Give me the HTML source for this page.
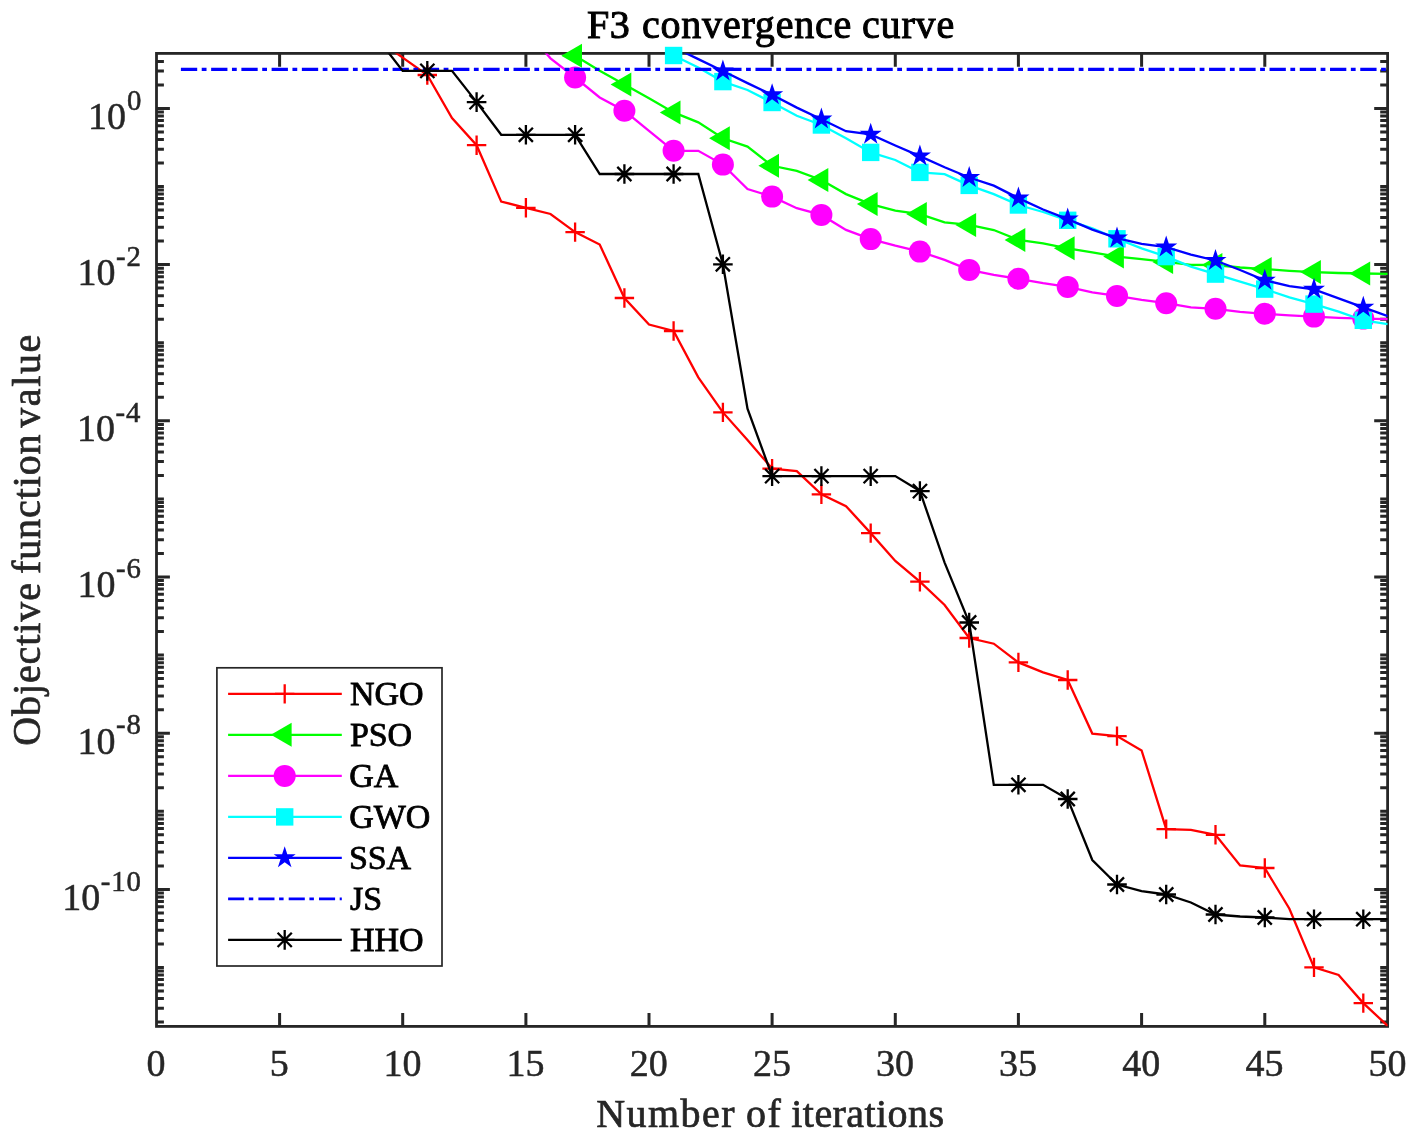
<!DOCTYPE html>
<html lang="en"><head><meta charset="utf-8"><title>F3 convergence curve</title>
<style>
html,body{margin:0;padding:0;background:#fff}
body{width:1417px;height:1142px;overflow:hidden}
svg text{font-family:"Liberation Serif",serif}
</style></head><body>
<svg width="1417" height="1142" viewBox="0 0 1417 1142" style="display:block">
<defs><clipPath id="c"><rect x="156.5" y="53.4" width="1231.1" height="973.0"/></clipPath></defs>
<rect width="1417" height="1142" fill="#fff"/>
<path d="M279.6 1026.4V1013.0M279.6 53.4V66.8M402.7 1026.4V1013.0M402.7 53.4V66.8M525.9 1026.4V1013.0M525.9 53.4V66.8M649.0 1026.4V1013.0M649.0 53.4V66.8M772.1 1026.4V1013.0M772.1 53.4V66.8M895.3 1026.4V1013.0M895.3 53.4V66.8M1018.4 1026.4V1013.0M1018.4 53.4V66.8M1141.6 1026.4V1013.0M1141.6 53.4V66.8M1264.8 1026.4V1013.0M1264.8 53.4V66.8M156.5 108.4H169.9M1387.6 108.4H1374.2M156.5 84.9H163.9M1387.6 84.9H1380.2M156.5 71.1H163.9M1387.6 71.1H1380.2M156.5 61.4H163.9M1387.6 61.4H1380.2M156.5 186.5H163.9M1387.6 186.5H1380.2M156.5 163.0H163.9M1387.6 163.0H1380.2M156.5 149.2H163.9M1387.6 149.2H1380.2M156.5 139.5H163.9M1387.6 139.5H1380.2M156.5 131.9H163.9M1387.6 131.9H1380.2M156.5 125.7H163.9M1387.6 125.7H1380.2M156.5 120.5H163.9M1387.6 120.5H1380.2M156.5 116.0H163.9M1387.6 116.0H1380.2M156.5 112.0H163.9M1387.6 112.0H1380.2M156.5 264.6H169.9M1387.6 264.6H1374.2M156.5 241.1H163.9M1387.6 241.1H1380.2M156.5 227.3H163.9M1387.6 227.3H1380.2M156.5 217.6H163.9M1387.6 217.6H1380.2M156.5 210.0H163.9M1387.6 210.0H1380.2M156.5 203.8H163.9M1387.6 203.8H1380.2M156.5 198.6H163.9M1387.6 198.6H1380.2M156.5 194.1H163.9M1387.6 194.1H1380.2M156.5 190.1H163.9M1387.6 190.1H1380.2M156.5 342.7H163.9M1387.6 342.7H1380.2M156.5 319.2H163.9M1387.6 319.2H1380.2M156.5 305.4H163.9M1387.6 305.4H1380.2M156.5 295.7H163.9M1387.6 295.7H1380.2M156.5 288.1H163.9M1387.6 288.1H1380.2M156.5 281.9H163.9M1387.6 281.9H1380.2M156.5 276.7H163.9M1387.6 276.7H1380.2M156.5 272.2H163.9M1387.6 272.2H1380.2M156.5 268.2H163.9M1387.6 268.2H1380.2M156.5 420.8H169.9M1387.6 420.8H1374.2M156.5 397.3H163.9M1387.6 397.3H1380.2M156.5 383.5H163.9M1387.6 383.5H1380.2M156.5 373.8H163.9M1387.6 373.8H1380.2M156.5 366.2H163.9M1387.6 366.2H1380.2M156.5 360.0H163.9M1387.6 360.0H1380.2M156.5 354.8H163.9M1387.6 354.8H1380.2M156.5 350.3H163.9M1387.6 350.3H1380.2M156.5 346.3H163.9M1387.6 346.3H1380.2M156.5 498.9H163.9M1387.6 498.9H1380.2M156.5 475.4H163.9M1387.6 475.4H1380.2M156.5 461.6H163.9M1387.6 461.6H1380.2M156.5 451.9H163.9M1387.6 451.9H1380.2M156.5 444.3H163.9M1387.6 444.3H1380.2M156.5 438.1H163.9M1387.6 438.1H1380.2M156.5 432.9H163.9M1387.6 432.9H1380.2M156.5 428.4H163.9M1387.6 428.4H1380.2M156.5 424.4H163.9M1387.6 424.4H1380.2M156.5 577.0H169.9M1387.6 577.0H1374.2M156.5 553.5H163.9M1387.6 553.5H1380.2M156.5 539.7H163.9M1387.6 539.7H1380.2M156.5 530.0H163.9M1387.6 530.0H1380.2M156.5 522.4H163.9M1387.6 522.4H1380.2M156.5 516.2H163.9M1387.6 516.2H1380.2M156.5 511.0H163.9M1387.6 511.0H1380.2M156.5 506.5H163.9M1387.6 506.5H1380.2M156.5 502.5H163.9M1387.6 502.5H1380.2M156.5 655.1H163.9M1387.6 655.1H1380.2M156.5 631.6H163.9M1387.6 631.6H1380.2M156.5 617.8H163.9M1387.6 617.8H1380.2M156.5 608.1H163.9M1387.6 608.1H1380.2M156.5 600.5H163.9M1387.6 600.5H1380.2M156.5 594.3H163.9M1387.6 594.3H1380.2M156.5 589.1H163.9M1387.6 589.1H1380.2M156.5 584.6H163.9M1387.6 584.6H1380.2M156.5 580.6H163.9M1387.6 580.6H1380.2M156.5 733.2H169.9M1387.6 733.2H1374.2M156.5 709.7H163.9M1387.6 709.7H1380.2M156.5 695.9H163.9M1387.6 695.9H1380.2M156.5 686.2H163.9M1387.6 686.2H1380.2M156.5 678.6H163.9M1387.6 678.6H1380.2M156.5 672.4H163.9M1387.6 672.4H1380.2M156.5 667.2H163.9M1387.6 667.2H1380.2M156.5 662.7H163.9M1387.6 662.7H1380.2M156.5 658.7H163.9M1387.6 658.7H1380.2M156.5 811.3H163.9M1387.6 811.3H1380.2M156.5 787.8H163.9M1387.6 787.8H1380.2M156.5 774.0H163.9M1387.6 774.0H1380.2M156.5 764.3H163.9M1387.6 764.3H1380.2M156.5 756.7H163.9M1387.6 756.7H1380.2M156.5 750.5H163.9M1387.6 750.5H1380.2M156.5 745.3H163.9M1387.6 745.3H1380.2M156.5 740.8H163.9M1387.6 740.8H1380.2M156.5 736.8H163.9M1387.6 736.8H1380.2M156.5 889.4H169.9M1387.6 889.4H1374.2M156.5 865.9H163.9M1387.6 865.9H1380.2M156.5 852.1H163.9M1387.6 852.1H1380.2M156.5 842.4H163.9M1387.6 842.4H1380.2M156.5 834.8H163.9M1387.6 834.8H1380.2M156.5 828.6H163.9M1387.6 828.6H1380.2M156.5 823.4H163.9M1387.6 823.4H1380.2M156.5 818.9H163.9M1387.6 818.9H1380.2M156.5 814.9H163.9M1387.6 814.9H1380.2M156.5 967.5H163.9M1387.6 967.5H1380.2M156.5 944.0H163.9M1387.6 944.0H1380.2M156.5 930.2H163.9M1387.6 930.2H1380.2M156.5 920.5H163.9M1387.6 920.5H1380.2M156.5 912.9H163.9M1387.6 912.9H1380.2M156.5 906.7H163.9M1387.6 906.7H1380.2M156.5 901.5H163.9M1387.6 901.5H1380.2M156.5 897.0H163.9M1387.6 897.0H1380.2M156.5 893.0H163.9M1387.6 893.0H1380.2M156.5 1022.1H163.9M1387.6 1022.1H1380.2M156.5 1008.3H163.9M1387.6 1008.3H1380.2M156.5 998.6H163.9M1387.6 998.6H1380.2M156.5 991.0H163.9M1387.6 991.0H1380.2M156.5 984.8H163.9M1387.6 984.8H1380.2M156.5 979.6H163.9M1387.6 979.6H1380.2M156.5 975.1H163.9M1387.6 975.1H1380.2M156.5 971.1H163.9M1387.6 971.1H1380.2" stroke="#262626" stroke-width="3.0" fill="none"/>
<rect x="156.5" y="53.4" width="1231.1" height="973.0" fill="none" stroke="#262626" stroke-width="2.8"/>
<polyline clip-path="url(#c)" fill="none" stroke="#ff0000" stroke-width="2.3" stroke-linejoin="miter" points="378.1,40.2 402.7,57.6 427.3,75.0 452.0,118.0 476.6,145.2 501.2,201.6 525.9,207.8 550.5,214.0 575.1,232.1 599.7,244.5 624.4,298.0 649.0,324.5 673.6,331.0 698.3,377.4 722.9,412.4 747.5,439.9 772.1,468.6 796.8,471.1 821.4,494.3 846.0,506.1 870.7,533.1 895.3,561.0 919.9,581.7 944.6,605.0 969.2,638.0 993.8,643.7 1018.4,662.4 1043.1,672.4 1067.7,680.0 1092.3,733.6 1117.0,736.1 1141.6,750.4 1166.2,829.1 1190.9,829.8 1215.5,834.8 1240.1,865.5 1264.8,868.0 1289.4,908.7 1314.0,967.4 1338.6,974.9 1363.3,1003.1 1387.9,1026.1"/>
<path d="M417.6 75.0H437.0M427.3 65.3V84.7" stroke="#ff0000" stroke-width="2.3" fill="none"/>
<path d="M466.9 145.2H486.3M476.6 135.5V154.9" stroke="#ff0000" stroke-width="2.3" fill="none"/>
<path d="M516.1 207.8H535.6M525.9 198.1V217.5" stroke="#ff0000" stroke-width="2.3" fill="none"/>
<path d="M565.4 232.1H584.8M575.1 222.4V241.8" stroke="#ff0000" stroke-width="2.3" fill="none"/>
<path d="M614.7 298.0H634.1M624.4 288.3V307.7" stroke="#ff0000" stroke-width="2.3" fill="none"/>
<path d="M663.9 331.0H683.3M673.6 321.3V340.7" stroke="#ff0000" stroke-width="2.3" fill="none"/>
<path d="M713.2 412.4H732.6M722.9 402.7V422.1" stroke="#ff0000" stroke-width="2.3" fill="none"/>
<path d="M762.4 468.6H781.9M772.1 458.9V478.3" stroke="#ff0000" stroke-width="2.3" fill="none"/>
<path d="M811.7 494.3H831.1M821.4 484.6V504.0" stroke="#ff0000" stroke-width="2.3" fill="none"/>
<path d="M861.0 533.1H880.4M870.7 523.4V542.8" stroke="#ff0000" stroke-width="2.3" fill="none"/>
<path d="M910.2 581.7H929.6M919.9 572.0V591.4" stroke="#ff0000" stroke-width="2.3" fill="none"/>
<path d="M959.5 638.0H978.9M969.2 628.3V647.7" stroke="#ff0000" stroke-width="2.3" fill="none"/>
<path d="M1008.7 662.4H1028.1M1018.4 652.7V672.1" stroke="#ff0000" stroke-width="2.3" fill="none"/>
<path d="M1058.0 680.0H1077.4M1067.7 670.3V689.7" stroke="#ff0000" stroke-width="2.3" fill="none"/>
<path d="M1107.3 736.1H1126.7M1117.0 726.4V745.8" stroke="#ff0000" stroke-width="2.3" fill="none"/>
<path d="M1156.5 829.1H1175.9M1166.2 819.4V838.8" stroke="#ff0000" stroke-width="2.3" fill="none"/>
<path d="M1205.8 834.8H1225.2M1215.5 825.1V844.5" stroke="#ff0000" stroke-width="2.3" fill="none"/>
<path d="M1255.0 868.0H1274.5M1264.8 858.3V877.7" stroke="#ff0000" stroke-width="2.3" fill="none"/>
<path d="M1304.3 967.4H1323.7M1314.0 957.7V977.1" stroke="#ff0000" stroke-width="2.3" fill="none"/>
<path d="M1353.6 1003.1H1373.0M1363.3 993.4V1012.8" stroke="#ff0000" stroke-width="2.3" fill="none"/>
<polyline clip-path="url(#c)" fill="none" stroke="#00ff00" stroke-width="2.3" stroke-linejoin="miter" points="550.5,40.8 575.1,55.8 599.7,70.8 624.4,84.6 649.0,98.3 673.6,112.4 698.3,122.4 722.9,138.3 747.5,146.6 772.1,165.8 796.8,170.8 821.4,180.0 846.0,194.1 870.7,204.1 895.3,210.7 919.9,214.1 944.6,222.4 969.2,224.9 993.8,230.0 1018.4,240.0 1043.1,243.3 1067.7,248.3 1092.3,252.4 1117.0,256.6 1141.6,259.1 1166.2,261.9 1190.9,264.9 1215.5,265.0 1240.1,267.5 1264.8,269.1 1289.4,270.8 1314.0,272.1 1338.6,273.0 1363.3,273.5 1387.9,273.8"/>
<path d="M561.3 55.8L582.0 43.8L582.0 67.8Z" fill="#00ff00"/>
<path d="M610.6 84.6L631.3 72.6L631.3 96.6Z" fill="#00ff00"/>
<path d="M659.8 112.4L680.5 100.4L680.5 124.4Z" fill="#00ff00"/>
<path d="M709.1 138.3L729.8 126.3L729.8 150.3Z" fill="#00ff00"/>
<path d="M758.4 165.8L779.0 153.8L779.0 177.8Z" fill="#00ff00"/>
<path d="M807.6 180.0L828.3 168.0L828.3 192.0Z" fill="#00ff00"/>
<path d="M856.9 204.1L877.6 192.1L877.6 216.1Z" fill="#00ff00"/>
<path d="M906.1 214.1L926.8 202.1L926.8 226.1Z" fill="#00ff00"/>
<path d="M955.4 224.9L976.1 212.9L976.1 236.9Z" fill="#00ff00"/>
<path d="M1004.6 240.0L1025.3 228.0L1025.3 252.0Z" fill="#00ff00"/>
<path d="M1053.9 248.3L1074.6 236.3L1074.6 260.3Z" fill="#00ff00"/>
<path d="M1103.2 256.6L1123.9 244.6L1123.9 268.6Z" fill="#00ff00"/>
<path d="M1152.4 261.9L1173.1 249.9L1173.1 273.9Z" fill="#00ff00"/>
<path d="M1201.7 265.0L1222.4 253.0L1222.4 277.0Z" fill="#00ff00"/>
<path d="M1251.0 269.1L1271.7 257.1L1271.7 281.1Z" fill="#00ff00"/>
<path d="M1300.2 272.1L1320.9 260.1L1320.9 284.1Z" fill="#00ff00"/>
<path d="M1349.5 273.5L1370.2 261.5L1370.2 285.5Z" fill="#00ff00"/>
<polyline clip-path="url(#c)" fill="none" stroke="#ff00ff" stroke-width="2.3" stroke-linejoin="miter" points="525.9,30.0 550.5,58.3 575.1,77.5 599.7,97.5 624.4,110.8 649.0,130.8 673.6,150.8 698.3,150.8 722.9,164.6 747.5,189.1 772.1,196.6 796.8,208.2 821.4,214.9 846.0,229.9 870.7,239.1 895.3,245.7 919.9,251.6 944.6,259.9 969.2,269.9 993.8,274.9 1018.4,278.8 1043.1,283.2 1067.7,286.9 1092.3,292.4 1117.0,295.9 1141.6,299.9 1166.2,303.2 1190.9,307.4 1215.5,308.8 1240.1,311.9 1264.8,313.8 1289.4,315.4 1314.0,316.6 1338.6,317.8 1363.3,318.6 1387.9,319.1"/>
<circle cx="575.1" cy="77.5" r="11" fill="#ff00ff"/>
<circle cx="624.4" cy="110.8" r="11" fill="#ff00ff"/>
<circle cx="673.6" cy="150.8" r="11" fill="#ff00ff"/>
<circle cx="722.9" cy="164.6" r="11" fill="#ff00ff"/>
<circle cx="772.1" cy="196.6" r="11" fill="#ff00ff"/>
<circle cx="821.4" cy="214.9" r="11" fill="#ff00ff"/>
<circle cx="870.7" cy="239.1" r="11" fill="#ff00ff"/>
<circle cx="919.9" cy="251.6" r="11" fill="#ff00ff"/>
<circle cx="969.2" cy="269.9" r="11" fill="#ff00ff"/>
<circle cx="1018.4" cy="278.8" r="11" fill="#ff00ff"/>
<circle cx="1067.7" cy="286.9" r="11" fill="#ff00ff"/>
<circle cx="1117.0" cy="295.9" r="11" fill="#ff00ff"/>
<circle cx="1166.2" cy="303.2" r="11" fill="#ff00ff"/>
<circle cx="1215.5" cy="308.8" r="11" fill="#ff00ff"/>
<circle cx="1264.8" cy="313.8" r="11" fill="#ff00ff"/>
<circle cx="1314.0" cy="316.6" r="11" fill="#ff00ff"/>
<circle cx="1363.3" cy="318.6" r="11" fill="#ff00ff"/>
<polyline clip-path="url(#c)" fill="none" stroke="#00ffff" stroke-width="2.3" stroke-linejoin="miter" points="649.0,43.0 673.6,55.5 698.3,67.5 722.9,81.6 747.5,90.0 772.1,102.5 796.8,115.8 821.4,125.0 846.0,138.3 870.7,152.4 895.3,160.0 919.9,172.4 944.6,174.1 969.2,185.4 993.8,194.1 1018.4,205.0 1043.1,212.0 1067.7,220.3 1092.3,228.3 1117.0,238.8 1141.6,248.3 1166.2,256.6 1190.9,266.6 1215.5,274.1 1240.1,281.6 1264.8,289.1 1289.4,297.4 1314.0,304.1 1338.6,311.6 1363.3,320.3 1387.9,324.1"/>
<rect x="664.9" y="46.8" width="17.4" height="17.4" fill="#00ffff"/>
<rect x="714.2" y="72.9" width="17.4" height="17.4" fill="#00ffff"/>
<rect x="763.4" y="93.8" width="17.4" height="17.4" fill="#00ffff"/>
<rect x="812.7" y="116.3" width="17.4" height="17.4" fill="#00ffff"/>
<rect x="862.0" y="143.7" width="17.4" height="17.4" fill="#00ffff"/>
<rect x="911.2" y="163.7" width="17.4" height="17.4" fill="#00ffff"/>
<rect x="960.5" y="176.7" width="17.4" height="17.4" fill="#00ffff"/>
<rect x="1009.7" y="196.3" width="17.4" height="17.4" fill="#00ffff"/>
<rect x="1059.0" y="211.6" width="17.4" height="17.4" fill="#00ffff"/>
<rect x="1108.3" y="230.1" width="17.4" height="17.4" fill="#00ffff"/>
<rect x="1157.5" y="247.9" width="17.4" height="17.4" fill="#00ffff"/>
<rect x="1206.8" y="265.4" width="17.4" height="17.4" fill="#00ffff"/>
<rect x="1256.0" y="280.4" width="17.4" height="17.4" fill="#00ffff"/>
<rect x="1305.3" y="295.4" width="17.4" height="17.4" fill="#00ffff"/>
<rect x="1354.6" y="311.6" width="17.4" height="17.4" fill="#00ffff"/>
<polyline clip-path="url(#c)" fill="none" stroke="#0000ff" stroke-width="2.3" stroke-linejoin="miter" points="673.6,47.2 698.3,59.1 722.9,71.0 747.5,83.1 772.1,94.8 796.8,107.6 821.4,119.2 846.0,131.2 870.7,134.4 895.3,145.5 919.9,156.1 944.6,167.2 969.2,177.5 993.8,185.6 1018.4,198.1 1043.1,209.5 1067.7,219.1 1092.3,229.6 1117.0,238.2 1141.6,243.8 1166.2,247.2 1190.9,254.6 1215.5,260.5 1240.1,270.0 1264.8,280.3 1289.4,286.2 1314.0,289.4 1338.6,298.3 1363.3,307.3 1387.9,316.2"/>
<polygon points="722.9,59.4 725.5,67.4 733.9,67.4 727.1,72.4 729.7,80.4 722.9,75.4 716.1,80.4 718.7,72.4 711.9,67.4 720.3,67.4" fill="#0000ff"/>
<polygon points="772.1,83.2 774.8,91.2 783.2,91.2 776.4,96.2 779.0,104.2 772.1,99.2 765.3,104.2 767.9,96.2 761.1,91.2 769.5,91.2" fill="#0000ff"/>
<polygon points="821.4,107.6 824.0,115.6 832.4,115.6 825.6,120.6 828.2,128.6 821.4,123.6 814.6,128.6 817.2,120.6 810.4,115.6 818.8,115.6" fill="#0000ff"/>
<polygon points="870.7,122.8 873.3,130.8 881.7,130.8 874.9,135.8 877.5,143.8 870.7,138.8 863.9,143.8 866.5,135.8 859.6,130.8 868.1,130.8" fill="#0000ff"/>
<polygon points="919.9,144.5 922.5,152.5 931.0,152.5 924.1,157.5 926.7,165.5 919.9,160.5 913.1,165.5 915.7,157.5 908.9,152.5 917.3,152.5" fill="#0000ff"/>
<polygon points="969.2,165.9 971.8,173.9 980.2,173.9 973.4,178.9 976.0,186.9 969.2,181.9 962.4,186.9 965.0,178.9 958.2,173.9 966.6,173.9" fill="#0000ff"/>
<polygon points="1018.4,186.5 1021.1,194.5 1029.5,194.5 1022.7,199.5 1025.3,207.5 1018.4,202.5 1011.6,207.5 1014.2,199.5 1007.4,194.5 1015.8,194.5" fill="#0000ff"/>
<polygon points="1067.7,207.5 1070.3,215.5 1078.7,215.5 1071.9,220.5 1074.5,228.5 1067.7,223.5 1060.9,228.5 1063.5,220.5 1056.7,215.5 1065.1,215.5" fill="#0000ff"/>
<polygon points="1117.0,226.6 1119.6,234.6 1128.0,234.6 1121.2,239.6 1123.8,247.6 1117.0,242.6 1110.2,247.6 1112.8,239.6 1105.9,234.6 1114.4,234.6" fill="#0000ff"/>
<polygon points="1166.2,235.6 1168.8,243.6 1177.3,243.6 1170.4,248.6 1173.0,256.6 1166.2,251.6 1159.4,256.6 1162.0,248.6 1155.2,243.6 1163.6,243.6" fill="#0000ff"/>
<polygon points="1215.5,248.9 1218.1,256.9 1226.5,256.9 1219.7,261.9 1222.3,269.9 1215.5,264.9 1208.7,269.9 1211.3,261.9 1204.5,256.9 1212.9,256.9" fill="#0000ff"/>
<polygon points="1264.8,268.7 1267.4,276.7 1275.8,276.7 1269.0,281.7 1271.6,289.7 1264.8,284.7 1257.9,289.7 1260.5,281.7 1253.7,276.7 1262.1,276.7" fill="#0000ff"/>
<polygon points="1314.0,277.8 1316.6,285.8 1325.0,285.8 1318.2,290.8 1320.8,298.8 1314.0,293.8 1307.2,298.8 1309.8,290.8 1303.0,285.8 1311.4,285.8" fill="#0000ff"/>
<polygon points="1363.3,295.7 1365.9,303.7 1374.3,303.7 1367.5,308.7 1370.1,316.7 1363.3,311.7 1356.5,316.7 1359.1,308.7 1352.2,303.7 1360.7,303.7" fill="#0000ff"/>
<path d="M180.9 69.4H1387.6" stroke="#0000ff" stroke-width="3.4" stroke-dasharray="16.3 4.52 4.8 4.62" fill="none"/>
<polyline clip-path="url(#c)" fill="none" stroke="#000000" stroke-width="2.3" stroke-linejoin="miter" points="378.1,39.2 402.7,70.9 427.3,70.9 452.0,70.9 476.6,102.1 501.2,134.8 525.9,134.8 550.5,134.8 575.1,134.8 599.7,174.0 624.4,174.0 649.0,174.0 673.6,174.0 698.3,174.0 722.9,264.3 747.5,408.7 772.1,476.1 796.8,476.1 821.4,476.1 846.0,476.1 870.7,476.1 895.3,476.1 919.9,491.1 944.6,562.6 969.2,622.5 993.8,784.8 1018.4,784.8 1043.1,784.8 1067.7,799.0 1092.3,860.0 1117.0,884.5 1141.6,891.2 1166.2,894.5 1190.9,902.5 1215.5,914.5 1240.1,916.5 1264.8,917.5 1289.4,919.2 1314.0,919.2 1338.6,919.2 1363.3,919.2 1387.9,919.2"/>
<path d="M417.5 70.9H437.1M427.3 61.1V80.7M420.3 63.8L434.4 78.0M420.3 78.0L434.4 63.8" stroke="#000000" stroke-width="2.3" fill="none"/>
<path d="M466.8 102.1H486.4M476.6 92.3V111.9M469.5 95.0L483.6 109.2M469.5 109.2L483.6 95.0" stroke="#000000" stroke-width="2.3" fill="none"/>
<path d="M516.1 134.8H535.6M525.9 125.0V144.6M518.8 127.7L532.9 141.9M518.8 141.9L532.9 127.7" stroke="#000000" stroke-width="2.3" fill="none"/>
<path d="M565.3 134.8H584.9M575.1 125.0V144.6M568.1 127.7L582.2 141.9M568.1 141.9L582.2 127.7" stroke="#000000" stroke-width="2.3" fill="none"/>
<path d="M614.6 174.0H634.2M624.4 164.2V183.8M617.3 166.9L631.4 181.1M617.3 181.1L631.4 166.9" stroke="#000000" stroke-width="2.3" fill="none"/>
<path d="M663.8 174.0H683.4M673.6 164.2V183.8M666.6 166.9L680.7 181.1M666.6 181.1L680.7 166.9" stroke="#000000" stroke-width="2.3" fill="none"/>
<path d="M713.1 264.3H732.7M722.9 254.5V274.1M715.8 257.2L729.9 271.4M715.8 271.4L729.9 257.2" stroke="#000000" stroke-width="2.3" fill="none"/>
<path d="M762.4 476.1H781.9M772.1 466.3V485.9M765.1 469.0L779.2 483.2M765.1 483.2L779.2 469.0" stroke="#000000" stroke-width="2.3" fill="none"/>
<path d="M811.6 476.1H831.2M821.4 466.3V485.9M814.4 469.0L828.5 483.2M814.4 483.2L828.5 469.0" stroke="#000000" stroke-width="2.3" fill="none"/>
<path d="M860.9 476.1H880.5M870.7 466.3V485.9M863.6 469.0L877.7 483.2M863.6 483.2L877.7 469.0" stroke="#000000" stroke-width="2.3" fill="none"/>
<path d="M910.1 491.1H929.7M919.9 481.3V500.9M912.9 484.0L927.0 498.2M912.9 498.2L927.0 484.0" stroke="#000000" stroke-width="2.3" fill="none"/>
<path d="M959.4 622.5H979.0M969.2 612.7V632.3M962.1 615.4L976.2 629.6M962.1 629.6L976.2 615.4" stroke="#000000" stroke-width="2.3" fill="none"/>
<path d="M1008.6 784.8H1028.2M1018.4 775.0V794.6M1011.4 777.7L1025.5 791.9M1011.4 791.9L1025.5 777.7" stroke="#000000" stroke-width="2.3" fill="none"/>
<path d="M1057.9 799.0H1077.5M1067.7 789.2V808.8M1060.7 791.9L1074.8 806.1M1060.7 806.1L1074.8 791.9" stroke="#000000" stroke-width="2.3" fill="none"/>
<path d="M1107.2 884.5H1126.8M1117.0 874.7V894.3M1109.9 877.4L1124.0 891.6M1109.9 891.6L1124.0 877.4" stroke="#000000" stroke-width="2.3" fill="none"/>
<path d="M1156.4 894.5H1176.0M1166.2 884.7V904.3M1159.2 887.4L1173.3 901.6M1159.2 901.6L1173.3 887.4" stroke="#000000" stroke-width="2.3" fill="none"/>
<path d="M1205.7 914.5H1225.3M1215.5 904.7V924.3M1208.4 907.4L1222.5 921.6M1208.4 921.6L1222.5 907.4" stroke="#000000" stroke-width="2.3" fill="none"/>
<path d="M1255.0 917.5H1274.5M1264.8 907.7V927.3M1257.7 910.4L1271.8 924.6M1257.7 924.6L1271.8 910.4" stroke="#000000" stroke-width="2.3" fill="none"/>
<path d="M1304.2 919.2H1323.8M1314.0 909.4V929.0M1307.0 912.1L1321.1 926.3M1307.0 926.3L1321.1 912.1" stroke="#000000" stroke-width="2.3" fill="none"/>
<path d="M1353.5 919.2H1373.1M1363.3 909.4V929.0M1356.2 912.1L1370.3 926.3M1356.2 926.3L1370.3 912.1" stroke="#000000" stroke-width="2.3" fill="none"/>
<rect x="216.9" y="667.8" width="225.1" height="298.2" fill="#fff" stroke="#262626" stroke-width="1.7"/>
<path d="M228.1 693.9H341.8" stroke="#ff0000" stroke-width="2.3" fill="none"/>
<path d="M275.0 693.9H294.4M284.7 684.2V703.6" stroke="#ff0000" stroke-width="2.3" fill="none"/>
<text x="350.0" y="705.3" font-size="34" fill="#000" stroke="#000" stroke-width="0.8" letter-spacing="-0.1">NGO</text>
<path d="M228.1 734.8H341.8" stroke="#00ff00" stroke-width="2.3" fill="none"/>
<path d="M270.9 734.8L291.6 722.8L291.6 746.8Z" fill="#00ff00"/>
<text x="350.0" y="746.2" font-size="34" fill="#000" stroke="#000" stroke-width="0.8" letter-spacing="-0.1">PSO</text>
<path d="M228.1 775.9H341.8" stroke="#ff00ff" stroke-width="2.3" fill="none"/>
<circle cx="284.7" cy="775.9" r="11" fill="#ff00ff"/>
<text x="349.3" y="787.3" font-size="34" fill="#000" stroke="#000" stroke-width="0.8" letter-spacing="-0.1">GA</text>
<path d="M228.1 816.9H341.8" stroke="#00ffff" stroke-width="2.3" fill="none"/>
<rect x="276.0" y="808.2" width="17.4" height="17.4" fill="#00ffff"/>
<text x="349.3" y="828.3" font-size="34" fill="#000" stroke="#000" stroke-width="0.8" letter-spacing="-0.1">GWO</text>
<path d="M228.1 857.9H341.8" stroke="#0000ff" stroke-width="2.3" fill="none"/>
<polygon points="284.7,846.3 287.3,854.3 295.7,854.3 288.9,859.3 291.5,867.3 284.7,862.3 277.9,867.3 280.5,859.3 273.7,854.3 282.1,854.3" fill="#0000ff"/>
<text x="349.0" y="869.3" font-size="34" fill="#000" stroke="#000" stroke-width="0.8" letter-spacing="-0.1">SSA</text>
<path d="M228.1 898.8H341.8" stroke="#0000ff" stroke-width="2.7" stroke-dasharray="16.1 4.6 4.5 5.1" fill="none"/>
<text x="350.0" y="910.2" font-size="34" fill="#000" stroke="#000" stroke-width="0.8" letter-spacing="-0.1">JS</text>
<path d="M228.1 939.9H341.8" stroke="#000000" stroke-width="2.3" fill="none"/>
<path d="M274.9 939.9H294.5M284.7 930.1V949.7M277.6 932.8L291.8 947.0M277.6 947.0L291.8 932.8" stroke="#000000" stroke-width="2.3" fill="none"/>
<text x="350.0" y="951.3" font-size="34" fill="#000" stroke="#000" stroke-width="0.8" letter-spacing="-0.1">HHO</text>
<text x="156.1" y="1076.3" font-size="38" text-anchor="middle" fill="#262626" stroke="#262626" stroke-width="0.5">0</text>
<text x="279.2" y="1076.3" font-size="38" text-anchor="middle" fill="#262626" stroke="#262626" stroke-width="0.5">5</text>
<text x="402.4" y="1076.3" font-size="38" text-anchor="middle" fill="#262626" stroke="#262626" stroke-width="0.5">10</text>
<text x="525.6" y="1076.3" font-size="38" text-anchor="middle" fill="#262626" stroke="#262626" stroke-width="0.5">15</text>
<text x="648.7" y="1076.3" font-size="38" text-anchor="middle" fill="#262626" stroke="#262626" stroke-width="0.5">20</text>
<text x="771.9" y="1076.3" font-size="38" text-anchor="middle" fill="#262626" stroke="#262626" stroke-width="0.5">25</text>
<text x="895.0" y="1076.3" font-size="38" text-anchor="middle" fill="#262626" stroke="#262626" stroke-width="0.5">30</text>
<text x="1018.1" y="1076.3" font-size="38" text-anchor="middle" fill="#262626" stroke="#262626" stroke-width="0.5">35</text>
<text x="1141.3" y="1076.3" font-size="38" text-anchor="middle" fill="#262626" stroke="#262626" stroke-width="0.5">40</text>
<text x="1264.5" y="1076.3" font-size="38" text-anchor="middle" fill="#262626" stroke="#262626" stroke-width="0.5">45</text>
<text x="1387.6" y="1076.3" font-size="38" text-anchor="middle" fill="#262626" stroke="#262626" stroke-width="0.5">50</text>
<text x="126.1" y="128.7" font-size="38" text-anchor="end" fill="#262626" stroke="#262626" stroke-width="0.5">10</text>
<text x="142.4" y="109.5" font-size="28.8" text-anchor="end" fill="#262626" stroke="#262626" stroke-width="0.5" letter-spacing="0.9">0</text>
<text x="115.6" y="284.9" font-size="38" text-anchor="end" fill="#262626" stroke="#262626" stroke-width="0.5">10</text>
<text x="141.8" y="265.7" font-size="28.8" text-anchor="end" fill="#262626" stroke="#262626" stroke-width="0.5" letter-spacing="0.9">-2</text>
<text x="115.1" y="441.1" font-size="38" text-anchor="end" fill="#262626" stroke="#262626" stroke-width="0.5">10</text>
<text x="141.3" y="421.9" font-size="28.8" text-anchor="end" fill="#262626" stroke="#262626" stroke-width="0.5" letter-spacing="0.9">-4</text>
<text x="115.6" y="597.3" font-size="38" text-anchor="end" fill="#262626" stroke="#262626" stroke-width="0.5">10</text>
<text x="141.8" y="578.1" font-size="28.8" text-anchor="end" fill="#262626" stroke="#262626" stroke-width="0.5" letter-spacing="0.9">-6</text>
<text x="115.6" y="753.5" font-size="38" text-anchor="end" fill="#262626" stroke="#262626" stroke-width="0.5">10</text>
<text x="141.8" y="734.3" font-size="28.8" text-anchor="end" fill="#262626" stroke="#262626" stroke-width="0.5" letter-spacing="0.9">-8</text>
<text x="100.3" y="909.7" font-size="38" text-anchor="end" fill="#262626" stroke="#262626" stroke-width="0.5">10</text>
<text x="141.8" y="890.5" font-size="28.8" text-anchor="end" fill="#262626" stroke="#262626" stroke-width="0.5" letter-spacing="0.9">-10</text>
<g aria-label="F3 convergence curve">
<text x="587.1" y="38.0" font-size="40" fill="#000" stroke="#000" stroke-width="1.0" letter-spacing="0.4">F3</text>
<text x="641.9" y="38.0" font-size="40" fill="#000" stroke="#000" stroke-width="1.0" letter-spacing="0.81">convergence</text>
<text x="862.0" y="38.0" font-size="40" fill="#000" stroke="#000" stroke-width="1.0" letter-spacing="0.85">curve</text>
</g><g aria-label="Number of iterations">
<text x="596.2" y="1127.2" font-size="40" fill="#262626" stroke="#262626" stroke-width="0.7" letter-spacing="1.46">Number</text>
<text x="746.0" y="1127.2" font-size="40" fill="#262626" stroke="#262626" stroke-width="0.7" letter-spacing="1.5">of</text>
<text x="791.3" y="1127.2" font-size="40" fill="#262626" stroke="#262626" stroke-width="0.7" letter-spacing="0.43">iterations</text>
</g><g aria-label="Objective function value">
<text transform="translate(39.6,745.8) rotate(-90)" font-size="40" fill="#262626" stroke="#262626" stroke-width="0.7" letter-spacing="0.9">Objective</text>
<text transform="translate(39.6,574.0) rotate(-90)" font-size="40" fill="#262626" stroke="#262626" stroke-width="0.7" letter-spacing="0.9">function</text>
<text transform="translate(39.6,427.7) rotate(-90)" font-size="40" fill="#262626" stroke="#262626" stroke-width="0.7" letter-spacing="1.57">value</text>
</g>
</svg>
</body></html>
